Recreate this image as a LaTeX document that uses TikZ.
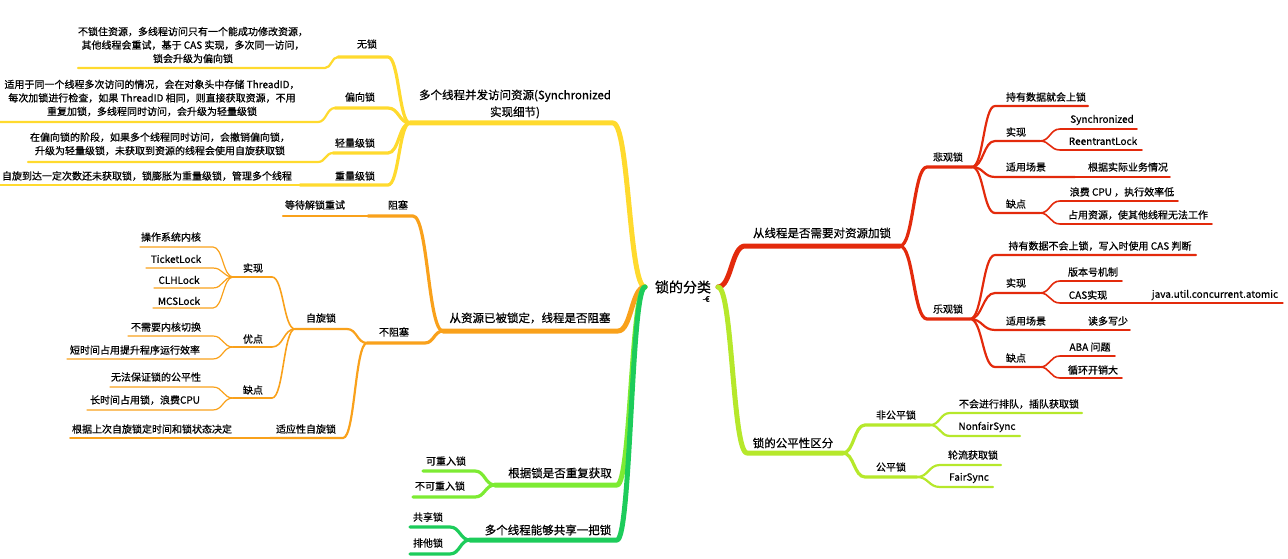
\documentclass[tikz,border=0pt]{standalone}
\usepackage{fontspec}
\setmainfont{Noto Sans CJK SC}[FakeBold=0.6]
\usepackage{xcolor}
\usetikzlibrary{calc}

\definecolor{brYellow}{HTML}{FFDA2E}
\definecolor{brOrange}{HTML}{F9A11B}
\definecolor{brRed}{HTML}{E32A0C}
\definecolor{brLime}{HTML}{B6E82B}
\definecolor{brLight}{HTML}{7DEB33}
\definecolor{brGreen}{HTML}{1DCC5B}

\begin{document}
\begin{tikzpicture}[
  x=1pt,y=-1pt,
  font=\fontsize{10}{13.5}\selectfont,
  lbl/.style={inner sep=0pt,align=center},
  topic/.style={lbl,font=\fontsize{11.5}{17}\selectfont},
  rootlbl/.style={lbl,font=\fontsize{14}{16}\selectfont},
  curvy/.style={to path={.. controls ($(\tikztostart)!0.5!(\tikztostart-|\tikztotarget)$) and ($(\tikztotarget)!0.5!(\tikztotarget-|\tikztostart)$) .. (\tikztotarget)}},
  br/.style={line cap=round,line join=round},
  lv1/.style={br,line width=5pt},
  lv2/.style={br,line width=3.2pt},
  lv3/.style={br,line width=2.2pt},
  lv4/.style={br,line width=1.6pt},
  lv5/.style={br,line width=1.2pt},
]
\useasboundingbox (0,0) rectangle (1288,559);

% root
\node[rootlbl] (root) at (683,287) {锁的分类};
\node[lbl,font=\fontsize{8}{8}\selectfont] (rootmark) at (706,299) {-€};
\coordinate (rootL) at (645,287);
\coordinate (rootR) at (718,287);

% left side: synchronized details
\coordinate (sync-r) at (613,123); \coordinate (sync-l) at (410,123);
\coordinate (nolock-r) at (388,57); \coordinate (nolock-l) at (338,57);
\coordinate (nolockd-r) at (325,68); \coordinate (nolockd-l) at (78,68);
\coordinate (biased-r) at (388,108); \coordinate (biased-l) at (335,108);
\coordinate (biasedd-r) at (318,122); \coordinate (biasedd-l) at (0,122);
\coordinate (light-r) at (388,153); \coordinate (light-l) at (333,153);
\coordinate (lightd-r) at (318,162); \coordinate (lightd-l) at (28,162);
\coordinate (heavy-r) at (388,185); \coordinate (heavy-l) at (300,185);
\coordinate (heavyd-l) at (0,185);
\draw[lv1,brYellow] (rootL) to[curvy] (sync-r) -- (sync-l);
\draw[lv2,brYellow] (sync-l) to[curvy] (nolock-r) -- (nolock-l);
\draw[lv2,brYellow] (sync-l) to[curvy] (biased-r) -- (biased-l);
\draw[lv2,brYellow] (sync-l) to[curvy] (light-r) -- (light-l);
\draw[lv2,brYellow] (sync-l) to[curvy] (heavy-r) -- (heavy-l);
\draw[lv3,brYellow] (nolock-l) to[curvy] (nolockd-r) -- (nolockd-l);
\draw[lv3,brYellow] (biased-l) to[curvy] (biasedd-r) -- (biasedd-l);
\draw[lv3,brYellow] (light-l) to[curvy] (lightd-r) -- (lightd-l);
\draw[lv3,brYellow] (heavy-l) -- (heavyd-l);
\node[topic] (sync) at (515,104) {多个线程并发访问资源(Synchronized\\实现细节)};
\node[lbl] (nolock) at (367,44) {无锁};
\node[lbl] (nolockd) at (193,45) {不锁住资源，多线程访问只有一个能成功修改资源，\\其他线程会重试，基于 CAS 实现，多次同一访问，\\锁会升级为偏向锁};
\node[lbl] (biased) at (360,97) {偏向锁};
\node[lbl] (biasedd) at (152,98) {适用于同一个线程多次访问的情况，会在对象头中存储 ThreadID，\\每次加锁进行检查，如果 ThreadID 相同，则直接获取资源，不用\\重复加锁，多线程同时访问，会升级为轻量级锁};
\node[lbl] (light) at (355,143) {轻量级锁};
\node[lbl] (lightd) at (160,144) {在偏向锁的阶段，如果多个线程同时访问，会撤销偏向锁，\\升级为轻量级锁，未获取到资源的线程会使用自旋获取锁};
\node[lbl] (heavy) at (355,176) {重量级锁};
\node[lbl] (heavyd) at (147,176) {自旋到达一定次数还未获取锁，锁膨胀为重量级锁，管理多个线程};

% left side: blocking
\coordinate (block-r) at (618,331); \coordinate (block-l) at (443,331);
\coordinate (bl-r) at (413,216); \coordinate (bl-l) at (368,216);
\coordinate (retry-l) at (283,216);
\coordinate (nbl-r) at (425,343); \coordinate (nbl-l) at (367,343);
\coordinate (spin-r) at (347,329); \coordinate (spin-l) at (295,329);
\coordinate (simpl-r) at (272,277); \coordinate (simpl-l) at (233,277);
\coordinate (k1-r) at (213,247); \coordinate (k1-l) at (140,247);
\coordinate (k2-r) at (213,268); \coordinate (k2-l) at (146,268);
\coordinate (k3-r) at (213,288); \coordinate (k3-l) at (154,288);
\coordinate (k4-r) at (213,308); \coordinate (k4-l) at (153,308);
\coordinate (spro-r) at (272,347); \coordinate (spro-l) at (233,347);
\coordinate (p1-r) at (213,336); \coordinate (p1-l) at (128,336);
\coordinate (p2-r) at (213,359); \coordinate (p2-l) at (67,359);
\coordinate (scon-r) at (272,398); \coordinate (scon-l) at (233,398);
\coordinate (c1-r) at (213,387); \coordinate (c1-l) at (110,387);
\coordinate (c2-r) at (213,410); \coordinate (c2-l) at (87,410);
\coordinate (adapt-r) at (343,438); \coordinate (adapt-l) at (270,438);
\coordinate (ad-l) at (70,438);
\draw[lv1,brOrange] (rootL) to[curvy] (block-r) -- (block-l);
\draw[lv2,brOrange] (block-l) to[curvy] (bl-r) -- (bl-l);
\draw[lv3,brOrange] (bl-l) -- (retry-l);
\draw[lv2,brOrange] (block-l) to[curvy] (nbl-r) -- (nbl-l);
\draw[lv3,brOrange] (nbl-l) to[curvy] (spin-r) -- (spin-l);
\draw[lv3,brOrange] (nbl-l) to[curvy] (adapt-r) -- (adapt-l);
\draw[lv4,brOrange] (adapt-l) -- (ad-l);
\draw[lv4,brOrange] (spin-l) to[curvy] (simpl-r) -- (simpl-l);
\draw[lv4,brOrange] (spin-l) to[curvy] (spro-r) -- (spro-l);
\draw[lv4,brOrange] (spin-l) to[curvy] (scon-r) -- (scon-l);
\draw[lv5,brOrange] (simpl-l) to[curvy] (k1-r) -- (k1-l);
\draw[lv5,brOrange] (simpl-l) to[curvy] (k2-r) -- (k2-l);
\draw[lv5,brOrange] (simpl-l) to[curvy] (k3-r) -- (k3-l);
\draw[lv5,brOrange] (simpl-l) to[curvy] (k4-r) -- (k4-l);
\draw[lv5,brOrange] (spro-l) to[curvy] (p1-r) -- (p1-l);
\draw[lv5,brOrange] (spro-l) to[curvy] (p2-r) -- (p2-l);
\draw[lv5,brOrange] (scon-l) to[curvy] (c1-r) -- (c1-l);
\draw[lv5,brOrange] (scon-l) to[curvy] (c2-r) -- (c2-l);
\node[topic] (block) at (530,318) {从资源已被锁定，线程是否阻塞};
\node[lbl] (bl) at (398,205) {阻塞};
\node[lbl] (retry) at (315,205) {等待解锁重试};
\node[lbl] (nbl) at (394,332) {不阻塞};
\node[lbl] (spin) at (321,318) {自旋锁};
\node[lbl] (simpl) at (253,268) {实现};
\node[lbl] (k1) at (171,237) {操作系统内核};
\node[lbl] (k2) at (176,259) {TicketLock};
\node[lbl] (k3) at (179,280) {CLHLock};
\node[lbl] (k4) at (179,301) {MCSLock};
\node[lbl] (spro) at (253,339) {优点};
\node[lbl] (p1) at (166,327) {不需要内核切换};
\node[lbl] (p2) at (135,350) {短时间占用提升程序运行效率};
\node[lbl] (scon) at (253,390) {缺点};
\node[lbl] (c1) at (156,377) {无法保证锁的公平性};
\node[lbl] (c2) at (145,400) {长时间占用锁，浪费CPU};
\node[lbl] (adapt) at (306,429) {适应性自旋锁};
\node[lbl] (ad) at (152,429) {根据上次自旋锁定时间和锁状态决定};

% left side: reentrant and shared
\coordinate (reent-r) at (617,485); \coordinate (reent-l) at (495,485);
\coordinate (re1-r) at (475,471); \coordinate (re1-l) at (423,471);
\coordinate (re2-r) at (475,497); \coordinate (re2-l) at (413,497);
\coordinate (share-r) at (617,540); \coordinate (share-l) at (470,540);
\coordinate (sh1-r) at (450,527); \coordinate (sh1-l) at (410,527);
\coordinate (sh2-r) at (450,554); \coordinate (sh2-l) at (410,554);
\draw[lv1,brLight] (rootL) to[curvy] (reent-r) -- (reent-l);
\draw[lv2,brLight] (reent-l) to[curvy] (re1-r) -- (re1-l);
\draw[lv2,brLight] (reent-l) to[curvy] (re2-r) -- (re2-l);
\draw[lv1,brGreen] (rootL) to[curvy] (share-r) -- (share-l);
\draw[lv2,brGreen] (share-l) to[curvy] (sh1-r) -- (sh1-l);
\draw[lv2,brGreen] (share-l) to[curvy] (sh2-r) -- (sh2-l);
\node[topic] (reent) at (560,473) {根据锁是否重复获取};
\node[lbl] (re1) at (446,461) {可重入锁};
\node[lbl] (re2) at (440,486) {不可重入锁};
\node[topic] (share) at (548,530) {多个线程能够共享一把锁};
\node[lbl] (sh1) at (428,517) {共享锁};
\node[lbl] (sh2) at (428,543) {排他锁};

% right side: pessimistic / optimistic
\coordinate (need-l) at (745,246); \coordinate (need-r) at (900,246);
\coordinate (pess-l) at (927,167); \coordinate (pess-r) at (972,167);
\coordinate (pe1-l) at (995,106); \coordinate (pe1-r) at (1088,106);
\coordinate (pe2-l) at (995,141); \coordinate (pe2-r) at (1040,141);
\coordinate (pe2a-l) at (1060,129); \coordinate (pe2a-r) at (1137,129);
\coordinate (pe2b-l) at (1060,150); \coordinate (pe2b-r) at (1142,150);
\coordinate (pe3-l) at (995,177); \coordinate (pe3-r) at (1075,177);
\coordinate (pe3a-r) at (1170,177);
\coordinate (pe4-l) at (995,213); \coordinate (pe4-r) at (1040,213);
\coordinate (pe4a-l) at (1060,201); \coordinate (pe4a-r) at (1178,201);
\coordinate (pe4b-l) at (1060,224); \coordinate (pe4b-r) at (1212,224);
\coordinate (opt-l) at (927,319); \coordinate (opt-r) at (970,319);
\coordinate (op1-l) at (995,255); \coordinate (op1-r) at (1196,255);
\coordinate (op2-l) at (995,293); \coordinate (op2-r) at (1040,293);
\coordinate (op2a-l) at (1060,281); \coordinate (op2a-r) at (1122,281);
\coordinate (op2b-l) at (1060,303); \coordinate (op2b-r) at (1140,303);
\coordinate (op2c-r) at (1283,303);
\coordinate (op3-l) at (995,330); \coordinate (op3-r) at (1080,330);
\coordinate (op3a-r) at (1130,330);
\coordinate (op4-l) at (995,367); \coordinate (op4-r) at (1040,367);
\coordinate (op4a-l) at (1060,356); \coordinate (op4a-r) at (1115,356);
\coordinate (op4b-l) at (1060,378); \coordinate (op4b-r) at (1122,378);
\draw[lv1,brRed] (rootR) to[curvy] (need-l) -- (need-r);
\draw[lv2,brRed] (need-r) to[curvy] (pess-l) -- (pess-r);
\draw[lv2,brRed] (need-r) to[curvy] (opt-l) -- (opt-r);
\draw[lv3,brRed] (pess-r) to[curvy] (pe1-l) -- (pe1-r);
\draw[lv3,brRed] (pess-r) to[curvy] (pe2-l) -- (pe2-r);
\draw[lv3,brRed] (pess-r) to[curvy] (pe3-l) -- (pe3-r);
\draw[lv3,brRed] (pess-r) to[curvy] (pe4-l) -- (pe4-r);
\draw[lv4,brRed] (pe2-r) to[curvy] (pe2a-l) -- (pe2a-r);
\draw[lv4,brRed] (pe2-r) to[curvy] (pe2b-l) -- (pe2b-r);
\draw[lv4,brRed] (pe3-r) -- (pe3a-r);
\draw[lv4,brRed] (pe4-r) to[curvy] (pe4a-l) -- (pe4a-r);
\draw[lv4,brRed] (pe4-r) to[curvy] (pe4b-l) -- (pe4b-r);
\draw[lv3,brRed] (opt-r) to[curvy] (op1-l) -- (op1-r);
\draw[lv3,brRed] (opt-r) to[curvy] (op2-l) -- (op2-r);
\draw[lv3,brRed] (opt-r) to[curvy] (op3-l) -- (op3-r);
\draw[lv3,brRed] (opt-r) to[curvy] (op4-l) -- (op4-r);
\draw[lv4,brRed] (op2-r) to[curvy] (op2a-l) -- (op2a-r);
\draw[lv4,brRed] (op2-r) to[curvy] (op2b-l) -- (op2b-r);
\draw[lv5,brRed] (op2b-r) -- (op2c-r);
\draw[lv4,brRed] (op3-r) -- (op3a-r);
\draw[lv4,brRed] (op4-r) to[curvy] (op4a-l) -- (op4a-r);
\draw[lv4,brRed] (op4-r) to[curvy] (op4b-l) -- (op4b-r);
\node[topic] (need) at (822,233) {从线程是否需要对资源加锁};
\node[lbl] (pess) at (948,157) {悲观锁};
\node[lbl] (pe1) at (1046,97) {持有数据就会上锁};
\node[lbl] (pe2) at (1016,132) {实现};
\node[lbl] (pe2a) at (1102,120) {Synchronized};
\node[lbl] (pe2b) at (1103,141) {ReentrantLock};
\node[lbl] (pe3) at (1026,167) {适用场景};
\node[lbl] (pe3a) at (1128,167) {根据实际业务情况};
\node[lbl] (pe4) at (1016,204) {缺点};
\node[lbl] (pe4a) at (1122,192) {浪费 CPU ，执行效率低};
\node[lbl] (pe4b) at (1138,215) {占用资源，使其他线程无法工作};
\node[lbl] (opt) at (948,309) {乐观锁};
\node[lbl] (op1) at (1100,246) {持有数据不会上锁，写入时使用 CAS 判断};
\node[lbl] (op2) at (1016,283) {实现};
\node[lbl] (op2a) at (1093,272) {版本号机制};
\node[lbl] (op2b) at (1088,295) {CAS实现};
\node[lbl] (op2c) at (1215,295) {java.util.concurrent.atomic};
\node[lbl] (op3) at (1026,321) {适用场景};
\node[lbl] (op3a) at (1108,321) {读多写少};
\node[lbl] (op4) at (1016,358) {缺点};
\node[lbl] (op4a) at (1090,347) {ABA 问题};
\node[lbl] (op4b) at (1093,370) {循环开销大};

% right side: fairness
\coordinate (fair-l) at (747,453); \coordinate (fair-r) at (843,453);
\coordinate (nf-l) at (865,425); \coordinate (nf-r) at (930,425);
\coordinate (nf1-l) at (950,413); \coordinate (nf1-r) at (1082,413);
\coordinate (nf2-l) at (950,436); \coordinate (nf2-r) at (1020,436);
\coordinate (fa-l) at (865,477); \coordinate (fa-r) at (917,477);
\coordinate (fa1-l) at (940,465); \coordinate (fa1-r) at (1001,465);
\coordinate (fa2-l) at (940,487); \coordinate (fa2-r) at (993,487);
\draw[lv1,brLime] (rootR) to[curvy] (fair-l) -- (fair-r);
\draw[lv2,brLime] (fair-r) to[curvy] (nf-l) -- (nf-r);
\draw[lv2,brLime] (fair-r) to[curvy] (fa-l) -- (fa-r);
\draw[lv3,brLime] (nf-r) to[curvy] (nf1-l) -- (nf1-r);
\draw[lv3,brLime] (nf-r) to[curvy] (nf2-l) -- (nf2-r);
\draw[lv3,brLime] (fa-r) to[curvy] (fa1-l) -- (fa1-r);
\draw[lv3,brLime] (fa-r) to[curvy] (fa2-l) -- (fa2-r);
\node[topic] (fair) at (793,443) {锁的公平性区分};
\node[lbl] (nf) at (896,415) {非公平锁};
\node[lbl] (nf1) at (1019,404) {不会进行排队，插队获取锁};
\node[lbl] (nf2) at (987,427) {NonfairSync};
\node[lbl] (fa) at (891,467) {公平锁};
\node[lbl] (fa1) at (973,455) {轮流获取锁};
\node[lbl] (fa2) at (969,478) {FairSync};
\end{tikzpicture}
\end{document}
